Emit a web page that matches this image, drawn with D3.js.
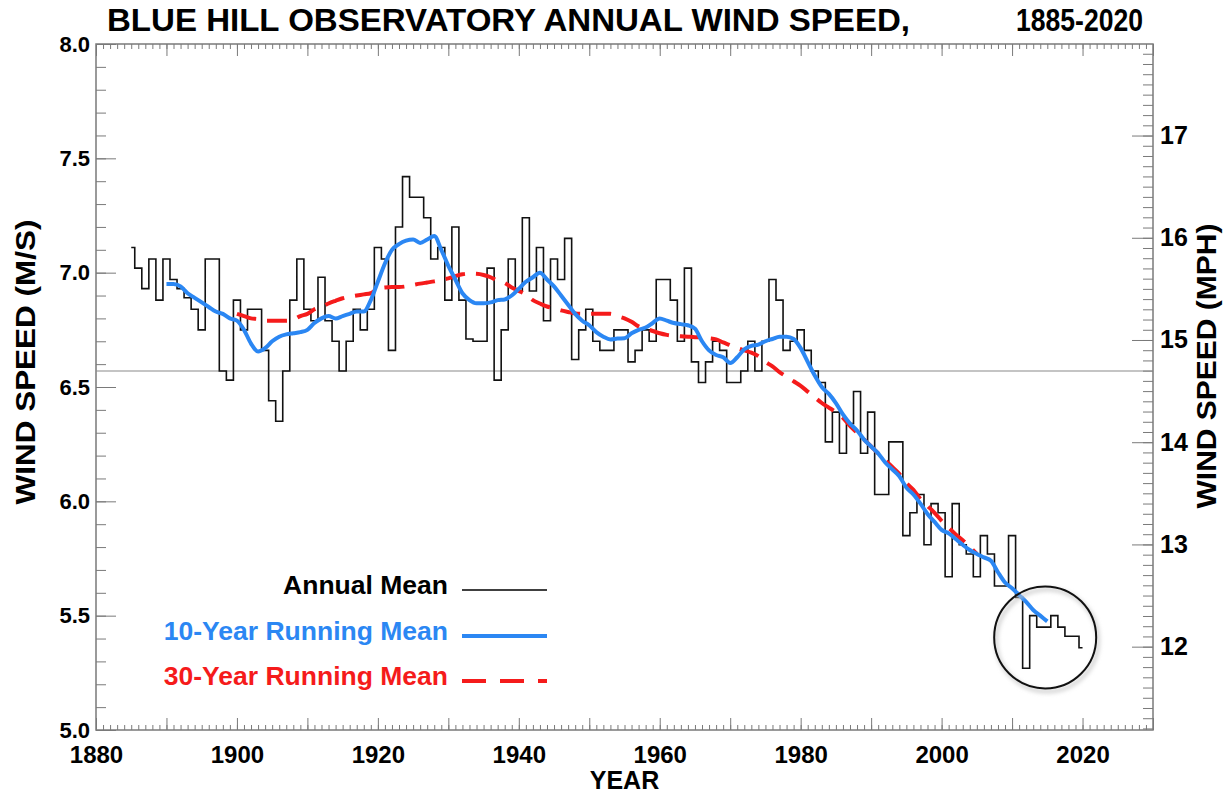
<!DOCTYPE html>
<meta charset="utf-8">
<script src="https://d3js.org/d3.v7.min.js"></script>
<body style="margin:0;background:#fff">
<div id="chart"></div>
</body>
<style>
text { font-family: "Liberation Sans", Arial, sans-serif; font-weight: bold; }
.tick line { stroke: #7a7a7a; }
</style>
<script>

// annual mean wind speed (m/s), one value per year starting 1885
var firstYear = 1885
var annualMean = [
  7.11, 7.02, 6.93, 7.06, 6.88, 7.06, 6.97, 6.93, 6.89, 6.84,   // 1885-1894
  6.75, 7.06, 7.06, 6.57, 6.53, 6.88, 6.75, 6.84, 6.84, 6.66,   // 1895-1904
  6.44, 6.35, 6.57, 6.88, 7.06, 6.84, 6.79, 6.98, 6.79, 6.70,   // 1905-1914
  6.57, 6.70, 6.84, 6.75, 6.84, 7.11, 7.06, 6.66, 7.20, 7.42,   // 1915-1924
  7.33, 7.33, 7.24, 7.06, 7.11, 6.88, 7.20, 6.88, 6.71, 6.70,   // 1925-1934
  6.70, 7.02, 6.53, 6.75, 7.06, 6.92, 7.24, 6.92, 7.11, 6.79,   // 1935-1944
  7.06, 6.97, 7.15, 6.62, 6.75, 6.84, 6.70, 6.66, 6.66, 6.75,   // 1945-1954
  6.75, 6.61, 6.66, 6.75, 6.70, 6.97, 6.97, 6.88, 6.70, 7.02,   // 1955-1964
  6.61, 6.52, 6.61, 6.70, 6.66, 6.52, 6.52, 6.57, 6.70, 6.57,   // 1965-1974
  6.70, 6.97, 6.88, 6.66, 6.70, 6.75, 6.66, 6.57, 6.52, 6.26,   // 1975-1984
  6.39, 6.21, 6.34, 6.48, 6.21, 6.39, 6.03, 6.03, 6.26, 6.26,   // 1985-1994
  5.85, 5.95, 6.03, 5.81, 5.99, 5.95, 5.67, 5.99, 5.81, 5.77,   // 1995-2004
  5.67, 5.85, 5.77, 5.63, 5.63, 5.85, 5.58, 5.27, 5.50, 5.45,   // 2005-2014
  5.45, 5.50, 5.45, 5.41, 5.41, 5.36                            // 2015-2020
]

// 10-year running mean, 1890-2015
var firstYear10 = 1890
var runMean10 = [
  6.95, 6.95, 6.94, 6.91, 6.89, 6.87, 6.85, 6.83, 6.82, 6.80,   // 1890
  6.79, 6.75, 6.69, 6.655, 6.67, 6.70, 6.72, 6.73, 6.735, 6.74, // 1900
  6.75, 6.78, 6.80, 6.81, 6.80, 6.81, 6.82, 6.83, 6.83, 6.88,   // 1910
  6.96, 7.04, 7.10, 7.125, 7.14, 7.145, 7.13, 7.145, 7.16, 7.10, // 1920
  7.03, 6.97, 6.91, 6.88, 6.866, 6.866, 6.87, 6.88, 6.883, 6.90, // 1930
  6.93, 6.96, 6.98, 7.00, 6.97, 6.94, 6.90, 6.86, 6.82, 6.79,   // 1940
  6.77, 6.74, 6.72, 6.708, 6.712, 6.713, 6.735, 6.75, 6.76, 6.78, // 1950
  6.80, 6.79, 6.78, 6.775, 6.77, 6.755, 6.70, 6.66, 6.64, 6.63, // 1960
  6.605, 6.63, 6.665, 6.68, 6.685, 6.70, 6.71, 6.72, 6.72, 6.71, // 1970
  6.67, 6.61, 6.55, 6.50, 6.47, 6.43, 6.38, 6.34, 6.31, 6.27,   // 1980
  6.24, 6.21, 6.17, 6.14, 6.11, 6.06, 6.03, 5.99, 5.945, 5.91,  // 1990
  5.875, 5.86, 5.835, 5.81, 5.787, 5.77, 5.755, 5.74, 5.69, 5.645, // 2000
  5.62, 5.59, 5.56, 5.525, 5.50, 5.475                          // 2010
]

// 30-year running mean, 1900-2005
var firstYear30 = 1900
var runMean30 = [
  6.82, 6.81, 6.80, 6.797, 6.79, 6.79, 6.79, 6.79, 6.795, 6.81,  // 1900
  6.82, 6.84, 6.85, 6.865, 6.877, 6.888, 6.895, 6.90, 6.905, 6.91, // 1910
  6.93, 6.935, 6.937, 6.937, 6.94, 6.946, 6.952, 6.957, 6.962, 6.968, // 1920
  6.975, 6.985, 6.993, 6.996, 6.995, 6.99, 6.98, 6.965, 6.955, 6.935, // 1930
  6.92, 6.905, 6.88, 6.865, 6.852, 6.845, 6.835, 6.828, 6.822, 6.82, // 1940
  6.82, 6.82, 6.82, 6.82, 6.81, 6.80, 6.785, 6.765, 6.755, 6.745, // 1950
  6.735, 6.728, 6.724, 6.722, 6.72, 6.718, 6.717, 6.713, 6.708, 6.695, // 1960
  6.683, 6.67, 6.66, 6.65, 6.635, 6.61, 6.59, 6.565, 6.545, 6.525, // 1970
  6.505, 6.48, 6.455, 6.43, 6.41, 6.39, 6.365, 6.33, 6.30, 6.27, // 1980
  6.24, 6.21, 6.18, 6.15, 6.12, 6.08, 6.05, 6.01, 5.98, 5.95,   // 1990
  5.915, 5.885, 5.855, 5.83, 5.80, 5.77                         // 2000
]

var longTermMean = 6.57
var msToMph = 2.23694
var xTickYears = [1880, 1900, 1920, 1940, 1960, 1980, 2000, 2020]
var yTickValues = [5.0, 5.5, 6.0, 6.5, 7.0, 7.5, 8.0]
var mphTickValues = [12, 13, 14, 15, 16, 17]
var legendLabels = ["Annual Mean", "10-Year Running Mean", "30-Year Running Mean"]
var highlight = {year: 2014.7, value: 5.405, radius: 51}

var blue = "#2b87f3", red = "#f51b1b", axisGrey = "#7a7a7a"

var svg = d3.select("#chart").append("svg")
    .attr("width", 1225)
    .attr("height", 794)

var x = d3.scaleLinear().domain([1880, 2030]).range([96, 1153])
var y = d3.scaleLinear().domain([5, 8]).range([730, 44])
var yMph = d3.scaleLinear().domain([5 * msToMph, 8 * msToMph]).range([730, 44])

// turn arrays into [year, value] pairs
function pairs(start, arr) { return arr.map(function(v, i) { return [start + i, v] }) }
var annual = pairs(firstYear, annualMean)
var mean10 = pairs(firstYear10, runMean10)
var mean30 = pairs(firstYear30, runMean30)

// axes: minor + major ticks, all pointing into the plot
function addAxis(axis, transform, labels) {
  var g = svg.append("g").attr("transform", transform).call(axis)
  g.select(".domain").remove()
  g.selectAll("text").style("fill", "#000")
  if (!labels) g.selectAll("text").remove()
  return g
}
var fmt1 = d3.format(".1f")

addAxis(d3.axisBottom(x).tickValues(d3.range(1880, 2031, 1)).tickSize(-5), "translate(0,730)", false)
addAxis(d3.axisBottom(x).tickValues(d3.range(1880, 2031, 10)).tickSize(-12), "translate(0,730)", false)
addAxis(d3.axisBottom(x).tickValues(xTickYears).tickSize(0).tickPadding(16).tickFormat(d3.format("d")), "translate(0,730)", true)
  .selectAll("text").style("font-size", "24px")
addAxis(d3.axisTop(x).tickValues(d3.range(1880, 2031, 1)).tickSize(-5), "translate(0,44)", false)
addAxis(d3.axisTop(x).tickValues(d3.range(1880, 2031, 10)).tickSize(-12), "translate(0,44)", false)

addAxis(d3.axisLeft(y).tickValues(d3.range(50, 81, 1).map(function(d) { return d / 10 })).tickSize(-10), "translate(96,0)", false)
addAxis(d3.axisLeft(y).tickValues(yTickValues).tickSize(-20).tickPadding(6).tickFormat(fmt1), "translate(96,0)", true)
  .selectAll("text").style("font-size", "22px").attr("x", -6)

var mphMinor = d3.range(112, 179, 1).map(function(d) { return d / 10 })
addAxis(d3.axisRight(yMph).tickValues(mphMinor).tickSize(-10), "translate(1153,0)", false)
addAxis(d3.axisRight(yMph).tickValues(mphTickValues).tickSize(-21).tickFormat(d3.format("d")), "translate(1153,0)", true)
  .selectAll("text").style("font-size", "25px").attr("x", 7)

// frame
svg.append("rect")
    .attr("x", x(1880)).attr("y", y(8))
    .attr("width", x(2030) - x(1880)).attr("height", y(5) - y(8))
    .attr("fill", "none").attr("stroke", axisGrey).attr("stroke-width", 1.5)

// long-term mean
svg.append("line")
    .attr("x1", x(1880)).attr("x2", x(2030))
    .attr("y1", y(longTermMean)).attr("y2", y(longTermMean))
    .attr("stroke", "#8a8a8a").attr("stroke-width", 1.2)

// annual mean, histogram style steps
svg.append("path")
    .datum(annual)
    .attr("fill", "none").attr("stroke", "#111").attr("stroke-width", 1.6)
    .attr("d", d3.line().curve(d3.curveStep)
        .x(function(d) { return x(d[0]) })
        .y(function(d) { return y(d[1]) }))

var smooth = d3.line().curve(d3.curveMonotoneX)
    .x(function(d) { return x(d[0]) })
    .y(function(d) { return y(d[1]) })

svg.append("path")
    .datum(mean30)
    .attr("fill", "none").attr("stroke", red).attr("stroke-width", 4)
    .attr("stroke-dasharray", "20,11")
    .attr("d", smooth)

svg.append("path")
    .datum(mean10)
    .attr("fill", "none").attr("stroke", blue).attr("stroke-width", 4)
    .attr("stroke-linejoin", "round")
    .attr("d", smooth)

// highlight circle with a soft shadow
var defs = svg.append("defs")
defs.append("filter").attr("id", "blur").append("feGaussianBlur").attr("stdDeviation", 2)
svg.append("circle")
    .attr("cx", x(highlight.year) + 2).attr("cy", y(highlight.value) + 3).attr("r", highlight.radius)
    .attr("fill", "none").attr("stroke", "#c8c8c8").attr("stroke-width", 3).attr("filter", "url(#blur)")
svg.append("circle")
    .attr("cx", x(highlight.year)).attr("cy", y(highlight.value)).attr("r", highlight.radius)
    .attr("fill", "none").attr("stroke", "#111").attr("stroke-width", 2)

// legend
var legendColors = ["#000", blue, red]
var legendRows = [594, 640, 685]
legendLabels.forEach(function(label, i) {
  svg.append("text")
      .attr("x", 448).attr("y", legendRows[i])
      .attr("text-anchor", "end")
      .style("font-size", "26.5px").style("fill", legendColors[i])
      .text(label)
  var ln = svg.append("line")
      .attr("x1", 462).attr("x2", 547)
      .attr("y1", legendRows[i] - 4).attr("y2", legendRows[i] - 4)
      .attr("stroke", legendColors[i])
      .attr("stroke-width", i == 0 ? 1.6 : 4)
  if (i == 2) ln.attr("stroke-dasharray", "24,14")
})

// titles
svg.append("text")
    .attr("x", 107).attr("y", 31)
    .attr("textLength", 803).attr("lengthAdjust", "spacingAndGlyphs")
    .style("font-size", "31px")
    .text("BLUE HILL OBSERVATORY ANNUAL WIND SPEED,")
svg.append("text")
    .attr("x", 1016).attr("y", 31)
    .attr("textLength", 127).attr("lengthAdjust", "spacingAndGlyphs")
    .style("font-size", "31px")
    .text("1885-2020")

svg.append("text")
    .attr("x", (x(1880) + x(2030)) / 2).attr("y", 789)
    .attr("text-anchor", "middle")
    .style("font-size", "25px")
    .text("YEAR")

svg.append("text")
    .attr("transform", "translate(35,362) rotate(-90)")
    .attr("text-anchor", "middle")
    .attr("textLength", 285).attr("lengthAdjust", "spacingAndGlyphs")
    .style("font-size", "27px")
    .text("WIND SPEED (M/S)")

svg.append("text")
    .attr("transform", "translate(1216,366) rotate(-90)")
    .attr("text-anchor", "middle")
    .attr("textLength", 285).attr("lengthAdjust", "spacingAndGlyphs")
    .style("font-size", "27px")
    .text("WIND SPEED (MPH)")

</script>
